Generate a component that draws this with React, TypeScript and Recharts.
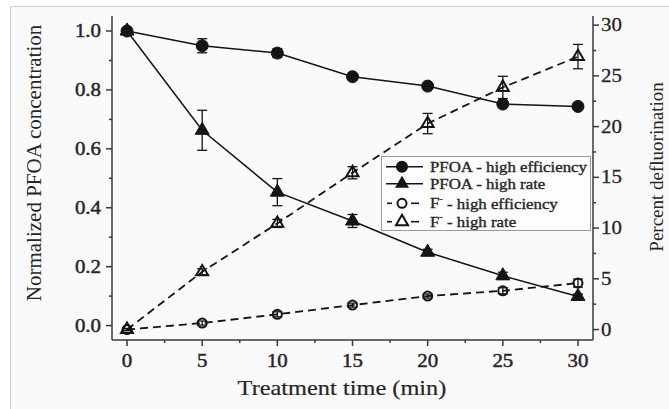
import React from 'react';
import { LineChart, Line, XAxis, YAxis, ErrorBar } from 'recharts';

const time = [0, 5, 10, 15, 20, 25, 30];
const pfoaHighEfficiency = [1.0, 0.95, 0.925, 0.845, 0.813, 0.752, 0.744];
const pfoaHighEfficiencyErr = [0.006, 0.024, 0.015, 0.008, 0.008, 0.008, 0.006];
const pfoaHighRate = [1.0, 0.663, 0.453, 0.355, 0.249, 0.169, 0.099];
const pfoaHighRateErr = [0.006, 0.068, 0.046, 0.022, 0.01, 0.012, 0.008];
const fHighEfficiency = [0, 0.64, 1.5, 2.41, 3.3, 3.82, 4.58];
const fHighEfficiencyErr = [0.1, 0.2, 0.25, 0.2, 0.2, 0.3, 0.4];
const fHighRate = [0, 5.69, 10.46, 15.45, 20.3, 23.86, 26.9];
const fHighRateErr = [0.1, 0.3, 0.4, 0.6, 1.0, 1.1, 1.2];

const xTicks = [0, 2.5, 5, 7.5, 10, 12.5, 15, 17.5, 20, 22.5, 25, 27.5, 30];
const xMajorTicks = [0, 5, 10, 15, 20, 25, 30];
const leftTicks = [0, 0.1, 0.2, 0.3, 0.4, 0.5, 0.6, 0.7, 0.8, 0.9, 1.0];
const leftMajorTicks = [0, 0.2, 0.4, 0.6, 0.8, 1.0];
const rightTicks = [0, 2.5, 5, 7.5, 10, 12.5, 15, 17.5, 20, 22.5, 25, 27.5, 30];
const rightMajorTicks = [0, 5, 10, 15, 20, 25, 30];

const legendLabels = ['PFOA - high efficiency', 'PFOA - high rate', 'F', 'F'];
const legendSuffix = ['', '', ' - high efficiency', ' - high rate'];

const data = time.map((t, i) => ({
  t,
  pHE: pfoaHighEfficiency[i],
  pHEErr: pfoaHighEfficiencyErr[i],
  pHR: pfoaHighRate[i],
  pHRErr: pfoaHighRateErr[i],
  fHE: fHighEfficiency[i],
  fHEErr: fHighEfficiencyErr[i],
  fHR: fHighRate[i],
  fHRErr: fHighRateErr[i],
}));

const INK = '#141414';
const AXIS = '#3a3a3a';
const TXT = '#262626';
const FONT = '"Liberation Serif", "DejaVu Serif", serif';
const SX = 1.16;

const isMajor = (v: number, majors: number[]) => majors.some((m) => Math.abs(m - v) < 1e-6);

const tri = (cx: number, cy: number, s: number) => {
  const h1 = s / Math.sqrt(3);
  const h2 = s / (2 * Math.sqrt(3));
  return `M${cx},${cy - h1} L${cx + s / 2},${cy + h2} L${cx - s / 2},${cy + h2} Z`;
};

const FilledCircle = (p: any) => (
  <circle key={`fc${p.index}`} cx={p.cx} cy={p.cy} r={6} fill={INK} stroke={INK} strokeWidth={1} />
);
const FilledTri = (p: any) => (
  <path key={`ft${p.index}`} d={tri(p.cx, p.cy, 14)} fill={INK} stroke={INK} strokeWidth={1} />
);
const OpenCircle = (p: any) => (
  <circle key={`oc${p.index}`} cx={p.cx} cy={p.cy} r={4.5} fill="none" stroke={INK} strokeWidth={2} />
);
const OpenTri = (p: any) => (
  <path key={`ot${p.index}`} d={tri(p.cx, p.cy, 12)} fill="none" stroke={INK} strokeWidth={2} />
);

const XTick = (p: any) => {
  const { x, y, payload } = p;
  const v = payload.value;
  const major = isMajor(v, xMajorTicks);
  return (
    <g>
      <line x1={x} x2={x} y1={y} y2={y + (major ? 6 : 3)} stroke={AXIS} strokeWidth={1.5} />
      {major && (
        <text transform={`translate(${x},${y + 21}) scale(${SX},1)`} textAnchor="middle" dominantBaseline="central"
          fontFamily={FONT} fontSize={18} fill={TXT} stroke={TXT} strokeWidth={0.45}>{v}</text>
      )}
    </g>
  );
};

const LeftTick = (p: any) => {
  const { x, y, payload } = p;
  const v = payload.value;
  const major = isMajor(v, leftMajorTicks);
  return (
    <g>
      <line x1={x} x2={x - (major ? 6 : 3)} y1={y} y2={y} stroke={AXIS} strokeWidth={1.5} />
      {major && (
        <text transform={`translate(${x - 11},${y}) scale(${SX},1)`} textAnchor="end" dominantBaseline="central"
          fontFamily={FONT} fontSize={18} fill={TXT} stroke={TXT} strokeWidth={0.45}>{v.toFixed(1)}</text>
      )}
    </g>
  );
};

const RightTick = (p: any) => {
  const { x, y, payload } = p;
  const v = payload.value;
  const major = isMajor(v, rightMajorTicks);
  return (
    <g>
      <line x1={x} x2={x + (major ? 6 : 3)} y1={y} y2={y} stroke={AXIS} strokeWidth={1.5} />
      {major && (
        <text transform={`translate(${x + 8},${y}) scale(${SX},1)`} textAnchor="start" dominantBaseline="central"
          fontFamily={FONT} fontSize={18} fill={TXT} stroke={TXT} strokeWidth={0.3}>{v}</text>
      )}
    </g>
  );
};

const LegendBox = () => {
  const rows = [10.7, 27.8, 47.3, 65.7];
  return (
    <svg width={210} height={75} style={{ display: 'block' }}>
      <rect x={0.5} y={0.5} width={209} height={74} fill="#fdfdfd" stroke="#9a9a9a" strokeWidth={1} />
      {rows.map((ry, i) => (
        <g key={i}>
          {i < 2 ? (
            <line x1={5} x2={42} y1={ry} y2={ry} stroke={INK} strokeWidth={1.6} />
          ) : (
            <g>
              <line x1={6} x2={11} y1={ry} y2={ry} stroke={INK} strokeWidth={1.6} />
              <line x1={30} x2={38} y1={ry} y2={ry} stroke={INK} strokeWidth={1.6} />
            </g>
          )}
          {i === 0 && <circle cx={21} cy={ry} r={6} fill={INK} />}
          {i === 1 && <path d={tri(21, ry, 14)} fill={INK} />}
          {i === 2 && <circle cx={21} cy={ry} r={4.5} fill="none" stroke={INK} strokeWidth={2} />}
          {i === 3 && <path d={tri(21, ry, 12)} fill="none" stroke={INK} strokeWidth={2} />}
          <text transform={`translate(49,${ry}) scale(${SX},1)`} dominantBaseline="central" fontFamily={FONT}
            fontSize={14.5} fill={TXT} stroke={TXT} strokeWidth={0.35}>
            {legendLabels[i]}
            {i >= 2 && <tspan fontSize={9} dy={-5}>-</tspan>}
            {i >= 2 && <tspan dy={5}>{legendSuffix[i]}</tspan>}
          </text>
        </g>
      ))}
    </svg>
  );
};

export default function App() {
  return (
    <div style={{ position: 'fixed', left: 0, top: 0, width: 669, height: 409, background: '#ffffff', overflow: 'hidden' }}>
      <div style={{ position: 'absolute', left: 10, top: 6, right: -2, bottom: -2, background: '#fafafa', border: '1px solid #cfcfcf' }} />
      <div style={{ position: 'absolute', left: 0, top: 0 }}>
        <LineChart width={669} height={409} data={data} margin={{ top: 16, right: 0, bottom: 0, left: 0 }}>
          <XAxis
            dataKey="t"
            type="number"
            domain={[-1, 31]}
            ticks={xTicks}
            interval={0}
            height={69}
            tickSize={0}
            tickMargin={0}
            tickLine={false}
            axisLine={{ stroke: AXIS, strokeWidth: 1.5 }}
            tick={<XTick />}
            label={() => (
              <text transform={`translate(342,388) scale(${SX},1)`} textAnchor="middle" dominantBaseline="central"
                fontFamily={FONT} fontSize={21} fill={TXT} stroke={TXT} strokeWidth={0.2}>Treatment time (min)</text>
            )}
          />
          <XAxis
            xAxisId="top"
            orientation="top"
            type="number"
            domain={[-1, 31]}
            height={0}
            tick={false}
            tickLine={false}
            axisLine={{ stroke: AXIS, strokeWidth: 1.5 }}
          />
          <YAxis
            yAxisId="left"
            type="number"
            domain={[-0.049, 1.051]}
            ticks={leftTicks}
            interval={0}
            width={112}
            tickSize={0}
            tickMargin={0}
            tickLine={false}
            axisLine={{ stroke: AXIS, strokeWidth: 1.5 }}
            tick={<LeftTick />}
            label={() => (
              <text transform="translate(34,163) rotate(-90)" textAnchor="middle" dominantBaseline="central"
                fontFamily={FONT} fontSize={21} fill={TXT}>Normalized PFOA concentration</text>
            )}
          />
          <YAxis
            yAxisId="right"
            orientation="right"
            type="number"
            domain={[-1.03, 30.9]}
            ticks={rightTicks}
            interval={0}
            width={76}
            tickSize={0}
            tickMargin={0}
            tickLine={false}
            axisLine={{ stroke: AXIS, strokeWidth: 1.5 }}
            tick={<RightTick />}
            label={() => (
              <text transform="translate(656,167) rotate(-90)" textAnchor="middle" dominantBaseline="central"
                fontFamily={FONT} fontSize={19} fill={TXT}>Percent defluorination</text>
            )}
          />
          <Line yAxisId="right" dataKey="fHE" stroke={INK} strokeWidth={1.8} strokeDasharray="8 5"
            dot={OpenCircle} activeDot={false} isAnimationActive={false}>
            <ErrorBar dataKey="fHEErr" width={5} stroke={INK} strokeWidth={1.3} direction="y" />
          </Line>
          <Line yAxisId="right" dataKey="fHR" stroke={INK} strokeWidth={1.8} strokeDasharray="8 5"
            dot={OpenTri} activeDot={false} isAnimationActive={false}>
            <ErrorBar dataKey="fHRErr" width={5} stroke={INK} strokeWidth={1.3} direction="y" />
          </Line>
          <Line yAxisId="left" dataKey="pHE" stroke={INK} strokeWidth={1.5}
            dot={FilledCircle} activeDot={false} isAnimationActive={false}>
            <ErrorBar dataKey="pHEErr" width={5} stroke={INK} strokeWidth={1.3} direction="y" />
          </Line>
          <Line yAxisId="left" dataKey="pHR" stroke={INK} strokeWidth={1.5}
            dot={FilledTri} activeDot={false} isAnimationActive={false}>
            <ErrorBar dataKey="pHRErr" width={5} stroke={INK} strokeWidth={1.3} direction="y" />
          </Line>
        </LineChart>
      </div>
      <div style={{ position: 'absolute', left: 381, top: 156 }}>
        <LegendBox />
      </div>
    </div>
  );
}
